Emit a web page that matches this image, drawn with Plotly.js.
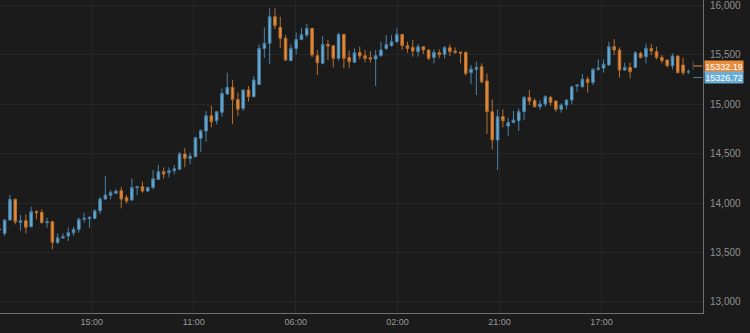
<!DOCTYPE html>
<html>
<head>
<meta charset="utf-8">
<script src="https://cdn.plot.ly/plotly-3.0.1.min.js"></script>
<style>
html,body{margin:0;padding:0;background:#1b1b1b;}
#chart{width:750px;height:333px;}
</style>
</head>
<body>
<div id="chart"></div>
<script>
// Hourly candles (index positions along the axis)
const opens = [13737,13694,13829,14038,13805,13822,13761,13913,13907,13802,
13812,13603,13647,13667,13701,13734,13836,13842,13846,13923,
14041,14079,14099,14126,14055,14031,14156,14166,14122,14159,
14240,14318,14308,14328,14342,14497,14453,14470,14655,14730,
14885,14834,14919,15104,15172,15050,14959,15145,15077,15202,
15566,15617,15887,15779,15668,15442,15566,15657,15701,15769,
15492,15415,15607,15593,15465,15708,15475,15425,15523,15492,
15472,15458,15492,15566,15593,15634,15708,15593,15577,15533,
15583,15550,15475,15523,15506,15573,15539,15529,15526,15320,
15354,15381,15236,14925,14639,14875,14780,14817,14834,14925,
15070,15037,14976,15003,15070,15033,14949,14993,15043,15185,
15178,15253,15222,15354,15367,15398,15583,15550,15347,15374,
15374,15516,15482,15566,15533,15475,15448,15391,15489,15398,
15328];
const highs = [13740,13839,14082,14048,13880,13886,13964,13930,13937,13853,
13822,13694,13694,13755,13761,13853,13903,13869,13937,14065,
14274,14133,14140,14166,14082,14250,14173,14217,14166,14335,
14385,14362,14362,14385,14520,14558,14510,14672,14746,14932,
14986,14932,15161,15320,15246,15118,15151,15185,15286,15607,
15779,15971,15971,15887,15701,15607,15728,15776,15813,15772,
15550,15691,15651,15596,15725,15712,15543,15566,15583,15550,
15539,15550,15634,15701,15701,15769,15712,15634,15651,15610,
15590,15556,15556,15556,15590,15607,15577,15533,15533,15398,
15431,15415,15313,15050,14949,14949,14865,14935,14959,15084,
15145,15060,15043,15094,15084,15043,15010,15054,15189,15205,
15307,15280,15364,15455,15455,15634,15661,15577,15421,15421,
15539,15533,15617,15610,15583,15499,15455,15516,15492,15472,
15354];
const lows = [13728,13667,13825,13785,13721,13694,13755,13836,13795,13751,
13532,13586,13637,13616,13670,13701,13802,13751,13836,13890,
14038,14038,14095,13947,13997,14024,14082,14105,14115,14139,
14234,14250,14261,14291,14335,14362,14392,14463,14520,14622,
14767,14797,14875,15101,14800,14881,14932,15027,15072,15198,
15472,15408,15759,15573,15438,15438,15506,15651,15678,15475,
15296,15404,15448,15374,15442,15364,15364,15421,15455,15425,
15421,15185,15482,15550,15583,15617,15550,15523,15482,15482,
15509,15448,15415,15465,15465,15489,15509,15415,15290,15202,
15094,15212,14699,14544,14335,14767,14679,14807,14730,14841,
14993,14969,14942,14976,14986,14925,14915,14949,14999,15128,
15168,15118,15195,15340,15320,15388,15499,15270,15340,15263,
15371,15465,15415,15499,15455,15415,15374,15354,15317,15297,
15303];
const closes = [13732,13829,14038,13812,13822,13755,13913,13903,13802,13812,
13603,13650,13660,13701,13734,13836,13846,13856,13923,14041,
14082,14106,14122,14041,14021,14159,14166,14122,14159,14247,
14318,14294,14328,14348,14497,14453,14476,14662,14733,14885,
14824,14925,15111,15172,15050,14949,15145,15077,15246,15566,
15617,15887,15796,15668,15448,15566,15657,15705,15769,15499,
15421,15607,15590,15465,15708,15465,15431,15523,15489,15465,
15458,15492,15550,15607,15634,15708,15593,15566,15539,15583,
15550,15465,15526,15502,15573,15533,15526,15519,15313,15357,
15374,15229,14925,14639,14875,14834,14817,14841,14925,15070,
15033,14976,15003,15077,15020,14949,14993,15043,15178,15195,
15253,15222,15354,15367,15405,15583,15550,15347,15374,15330,
15523,15475,15566,15539,15475,15442,15391,15489,15320,15320,
15330];

const xTickPos = [17.45, 36.68, 55.91, 75.14, 94.37, 113.6];
const xTickLabels = ['15:00', '11:00', '06:00', '02:00', '21:00', '17:00'];
const yTickVals = [13000, 13500, 14000, 14500, 15000, 15500, 16000];

const askPrice = 15332.19;
const bidPrice = 15326.72;

const xs = opens.map((_, i) => i);

const BLUE = '#6aaed6', BLUE_LINE = '#4a82a8';
const ORANGE = '#e88c3c', ORANGE_LINE = '#b76f2e';

const trace = {
  type: 'candlestick',
  x: xs, open: opens, high: highs, low: lows, close: closes,
  increasing: {line: {color: BLUE_LINE, width: 1}, fillcolor: BLUE},
  decreasing: {line: {color: ORANGE_LINE, width: 1}, fillcolor: ORANGE},
  whiskerwidth: 0,
  hoverinfo: 'skip'
};

const layout = {
  width: 750, height: 333,
  margin: {l: 0, r: 47, t: 0, b: 20, pad: 0},
  paper_bgcolor: '#1b1b1b', plot_bgcolor: '#1b1b1b',
  showlegend: false,
  boxgap: 0.32,
  font: {family: '"Liberation Sans", Arial, sans-serif'},
  xaxis: {
    range: [0.123, 132.76],
    tickmode: 'array', tickvals: xTickPos, ticktext: xTickLabels,
    showgrid: true, gridcolor: '#262626', gridwidth: 1,
    zeroline: false, showline: true, linecolor: '#707070', linewidth: 1,
    ticks: '', tickfont: {size: 9, color: '#9a9a9a'},
    rangeslider: {visible: false}, fixedrange: true
  },
  yaxis: {
    side: 'right', range: [12888, 16056],
    tickmode: 'array', tickvals: yTickVals, tickformat: ',d',
    showgrid: true, gridcolor: '#262626', gridwidth: 1,
    zeroline: false, showline: true, linecolor: '#707070', linewidth: 1,
    ticks: '', ticklabelstandoff: 4,
    tickfont: {size: 10, color: '#8f8f8f'}, fixedrange: true
  },
  annotations: [
    {xref: 'paper', x: 1, xanchor: 'left', xshift: 1, yref: 'y', y: askPrice, yshift: 5.5,
     text: askPrice.toFixed(2), showarrow: false, bgcolor: ORANGE, borderpad: 1,
     width: 36, height: 9, font: {size: 9, color: '#ffffff'}},
    {xref: 'paper', x: 1, xanchor: 'left', xshift: 1, yref: 'y', y: bidPrice, yshift: -5.5,
     text: bidPrice.toFixed(2), showarrow: false, bgcolor: BLUE, borderpad: 1,
     width: 36, height: 9, font: {size: 9, color: '#ffffff'}}
  ],
  shapes: [
    {type: 'line', xref: 'paper', x0: 0.986, x1: 1, yref: 'y', ysizemode: 'pixel',
     yanchor: askPrice, y0: 5.5, y1: 5.5, line: {color: ORANGE, width: 1, dash: 'dash'}},
    {type: 'line', xref: 'paper', x0: 0.986, x1: 1, yref: 'y', ysizemode: 'pixel',
     yanchor: bidPrice, y0: -5.5, y1: -5.5, line: {color: BLUE_LINE, width: 1, dash: 'dash'}},
    {type: 'line', xref: 'paper', x0: 0.986, x1: 0.986, yref: 'y', ysizemode: 'pixel',
     yanchor: bidPrice, y0: 11, y1: -5.5, line: {color: '#3f5566', width: 1, dash: 'dash'}}
  ]
};

Plotly.newPlot('chart', [trace], layout, {staticPlot: true, displayModeBar: false});
</script>
</body>
</html>
